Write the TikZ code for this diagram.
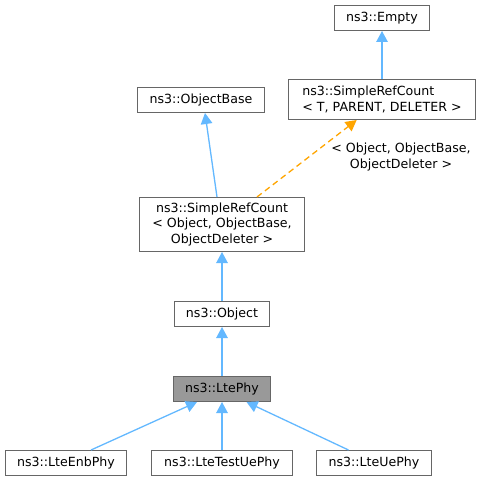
\documentclass[tikz,border=0pt]{standalone}
\usepackage{fontspec}
\setmainfont{DejaVu Sans}
\usetikzlibrary{arrows.meta,calc}
\definecolor{EdgeClr}{rgb}{0.388,0.722,1}
\definecolor{TplClr}{rgb}{1,0.647,0}
\definecolor{BoxClr}{rgb}{0.4,0.4,0.4}
\definecolor{CurClr}{rgb}{0.6,0.6,0.6}

\begin{document}
\begin{tikzpicture}[x=1pt,y=-1pt,
  font=\fontsize{12.6}{15.5}\selectfont,
  cls/.style={draw=BoxClr,line width=1pt,fill=white,inner sep=0pt,minimum height=25pt},
  inh/.style={EdgeClr,line width=1.3pt,-{Triangle[length=11pt,width=11.5pt]}},
  tpl/.style={inh,TplClr,dash pattern=on 6pt off 4pt}]
\useasboundingbox (0,0) rectangle (481,481);

\node[cls,minimum width=95pt] (Empty) at (382,18) {ns3::Empty};
\node[cls,minimum width=187pt,minimum height=40pt,align=left] (RefT) at (382,99.5) {ns3::SimpleRefCount\\< T, PARENT, DELETER >};
\node[cls,minimum width=127pt] (ObjBase) at (201,100) {ns3::ObjectBase};
\node[cls,minimum width=165pt,minimum height=54pt,align=center] (RefObj) at (222,224.5) {ns3::SimpleRefCount\\< Object, ObjectBase,\\ObjectDeleter >};
\node[cls,minimum width=95pt] (Obj) at (222,314) {ns3::Object};
\node[cls,minimum width=97pt,fill=CurClr] (Phy) at (222,389) {ns3::LtePhy};
\node[cls,minimum width=121pt] (Enb) at (66,463) {ns3::LteEnbPhy};
\node[cls,minimum width=141pt] (TestUe) at (222,463) {ns3::LteTestUePhy};
\node[cls,minimum width=115pt] (Ue) at (374,463) {ns3::LteUePhy};
\node[align=center] (TplLbl) at (401,157) {< Object, ObjectBase,\\ObjectDeleter >};

\draw[inh] (RefT.north) -- (Empty.south);
\draw[inh] ($(RefObj.north)+(-5,0)$) -- ($(ObjBase.south)+(4,0)$);
\draw[tpl] ($(RefObj.north)+(35,0)$) -- ($(RefT.south)+(-25.3,0)$);
\draw[inh] (Obj.north) -- (RefObj.south);
\draw[inh] (Phy.north) -- (Obj.south);
\draw[inh] ($(Enb.north)+(25,0)$) -- ($(Phy.south)+(-25,0)$);
\draw[inh] (TestUe.north) -- (Phy.south);
\draw[inh] ($(Ue.north)+(-25.5,0)$) -- ($(Phy.south)+(24.5,0)$);

\end{tikzpicture}
\end{document}
